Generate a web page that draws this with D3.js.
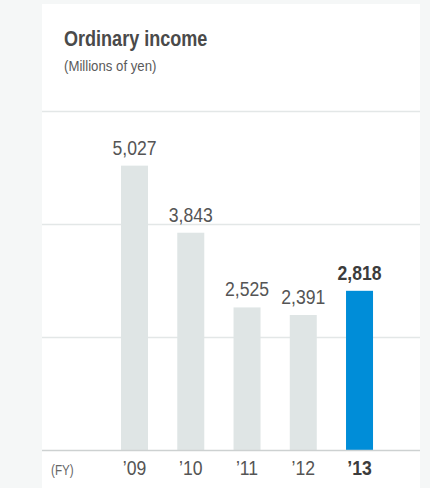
<!DOCTYPE html>
<html>
<head>
<meta charset="utf-8">
<script src="https://cdn.jsdelivr.net/npm/d3@7/dist/d3.min.js"></script>
<style>
  html, body { margin: 0; padding: 0; background: #f5f7f7; }
  svg { display: block; }
  text { font-family: "Liberation Sans", Arial, sans-serif; }
</style>
</head>
<body>
<svg id="chart" width="430" height="488"></svg>
<script>
// Ordinary income by fiscal year (millions of yen)
const years = ["\u201909", "\u201910", "\u201911", "\u201912", "\u201913"];
const income = [5027, 3843, 2525, 2391, 2818];
const valueLabels = ["5,027", "3,843", "2,525", "2,391", "2,818"];
const gridTicks = [2000, 4000, 6000];
const highlightIndex = 4;

const svg = d3.select("#chart");
const W = 430, H = 488;
const panel = { x: 42, y: 4, w: 378, h: H - 4 };
const baseY = 450.5, topY = 110.5;

// Narrow the natural glyph run to imitate a condensed face
function condense(sel, ratio) {
  sel.each(function () {
    const w = this.getComputedTextLength();
    d3.select(this).attr("textLength", w * ratio).attr("lengthAdjust", "spacingAndGlyphs");
  });
}

svg.append("rect").attr("width", W).attr("height", H).attr("fill", "#f5f7f7");
svg.append("rect").attr("x", panel.x).attr("y", panel.y)
  .attr("width", panel.w).attr("height", panel.h).attr("fill", "#ffffff");

// Title block
svg.append("text").attr("x", 64).attr("y", 45.5)
  .attr("font-size", 22).attr("font-weight", "bold").attr("fill", "#4a4a4a")
  .text("Ordinary income").call(condense, 0.82);
svg.append("text").attr("x", 64).attr("y", 70.5)
  .attr("font-size", 14.5).attr("fill", "#5a5a5a")
  .text("(Millions of yen)").call(condense, 0.91);

const y = d3.scaleLinear().domain([0, 6000]).range([baseY, topY]);
const x = d3.scaleBand().domain(years)
  .range([106.4, 106.4 + 5 * 56.25])
  .paddingInner(0.52).paddingOuter(0.26);

// Horizontal gridlines
svg.append("g").selectAll("line").data(gridTicks).join("line")
  .attr("x1", panel.x).attr("x2", panel.x + panel.w)
  .attr("y1", d => Math.round(y(d)) + 0.5).attr("y2", d => Math.round(y(d)) + 0.5)
  .attr("stroke", "#e3e7e7").attr("stroke-width", 1.3);

// Bars
const data = years.map((yr, i) => ({ yr, v: income[i], label: valueLabels[i], hi: i === highlightIndex }));
svg.append("g").selectAll("rect").data(data).join("rect")
  .attr("x", d => x(d.yr)).attr("width", x.bandwidth())
  .attr("y", d => y(d.v)).attr("height", d => baseY - y(d.v))
  .attr("fill", d => d.hi ? "#008dd8" : "#dfe5e5");

// Value labels above the bars
svg.append("g").selectAll("text").data(data).join("text")
  .attr("x", d => x(d.yr) + x.bandwidth() / 2)
  .attr("y", d => y(d.v) - 11)
  .attr("text-anchor", "middle")
  .attr("font-size", 20)
  .attr("font-weight", d => d.hi ? "bold" : "normal")
  .attr("fill", d => d.hi ? "#3c3c3c" : "#555555")
  .text(d => d.label)
  .call(condense, 0.88);

// Baseline axis
const xAxis = d3.axisBottom(x).tickSize(0).tickPadding(0);
const ax = svg.append("g").attr("transform", `translate(0,${baseY})`).call(xAxis);
ax.select(".domain").remove();
ax.append("line").attr("x1", panel.x).attr("x2", panel.x + panel.w)
  .attr("y1", 0).attr("y2", 0).attr("stroke", "#cdd1d1").attr("stroke-width", 1.6);
ax.selectAll(".tick text")
  .attr("dy", 0).attr("y", 24)
  .attr("font-size", 20)
  .attr("font-family", "'Liberation Sans', Arial, sans-serif")
  .attr("font-weight", (d, i) => i === highlightIndex ? "bold" : "normal")
  .attr("fill", (d, i) => i === highlightIndex ? "#3c3c3c" : "#555555")
  .call(condense, 0.88);

svg.append("text").attr("x", 51).attr("y", 475)
  .attr("font-size", 15).attr("fill", "#666666").text("(FY)").call(condense, 0.78);
</script>
</body>
</html>
